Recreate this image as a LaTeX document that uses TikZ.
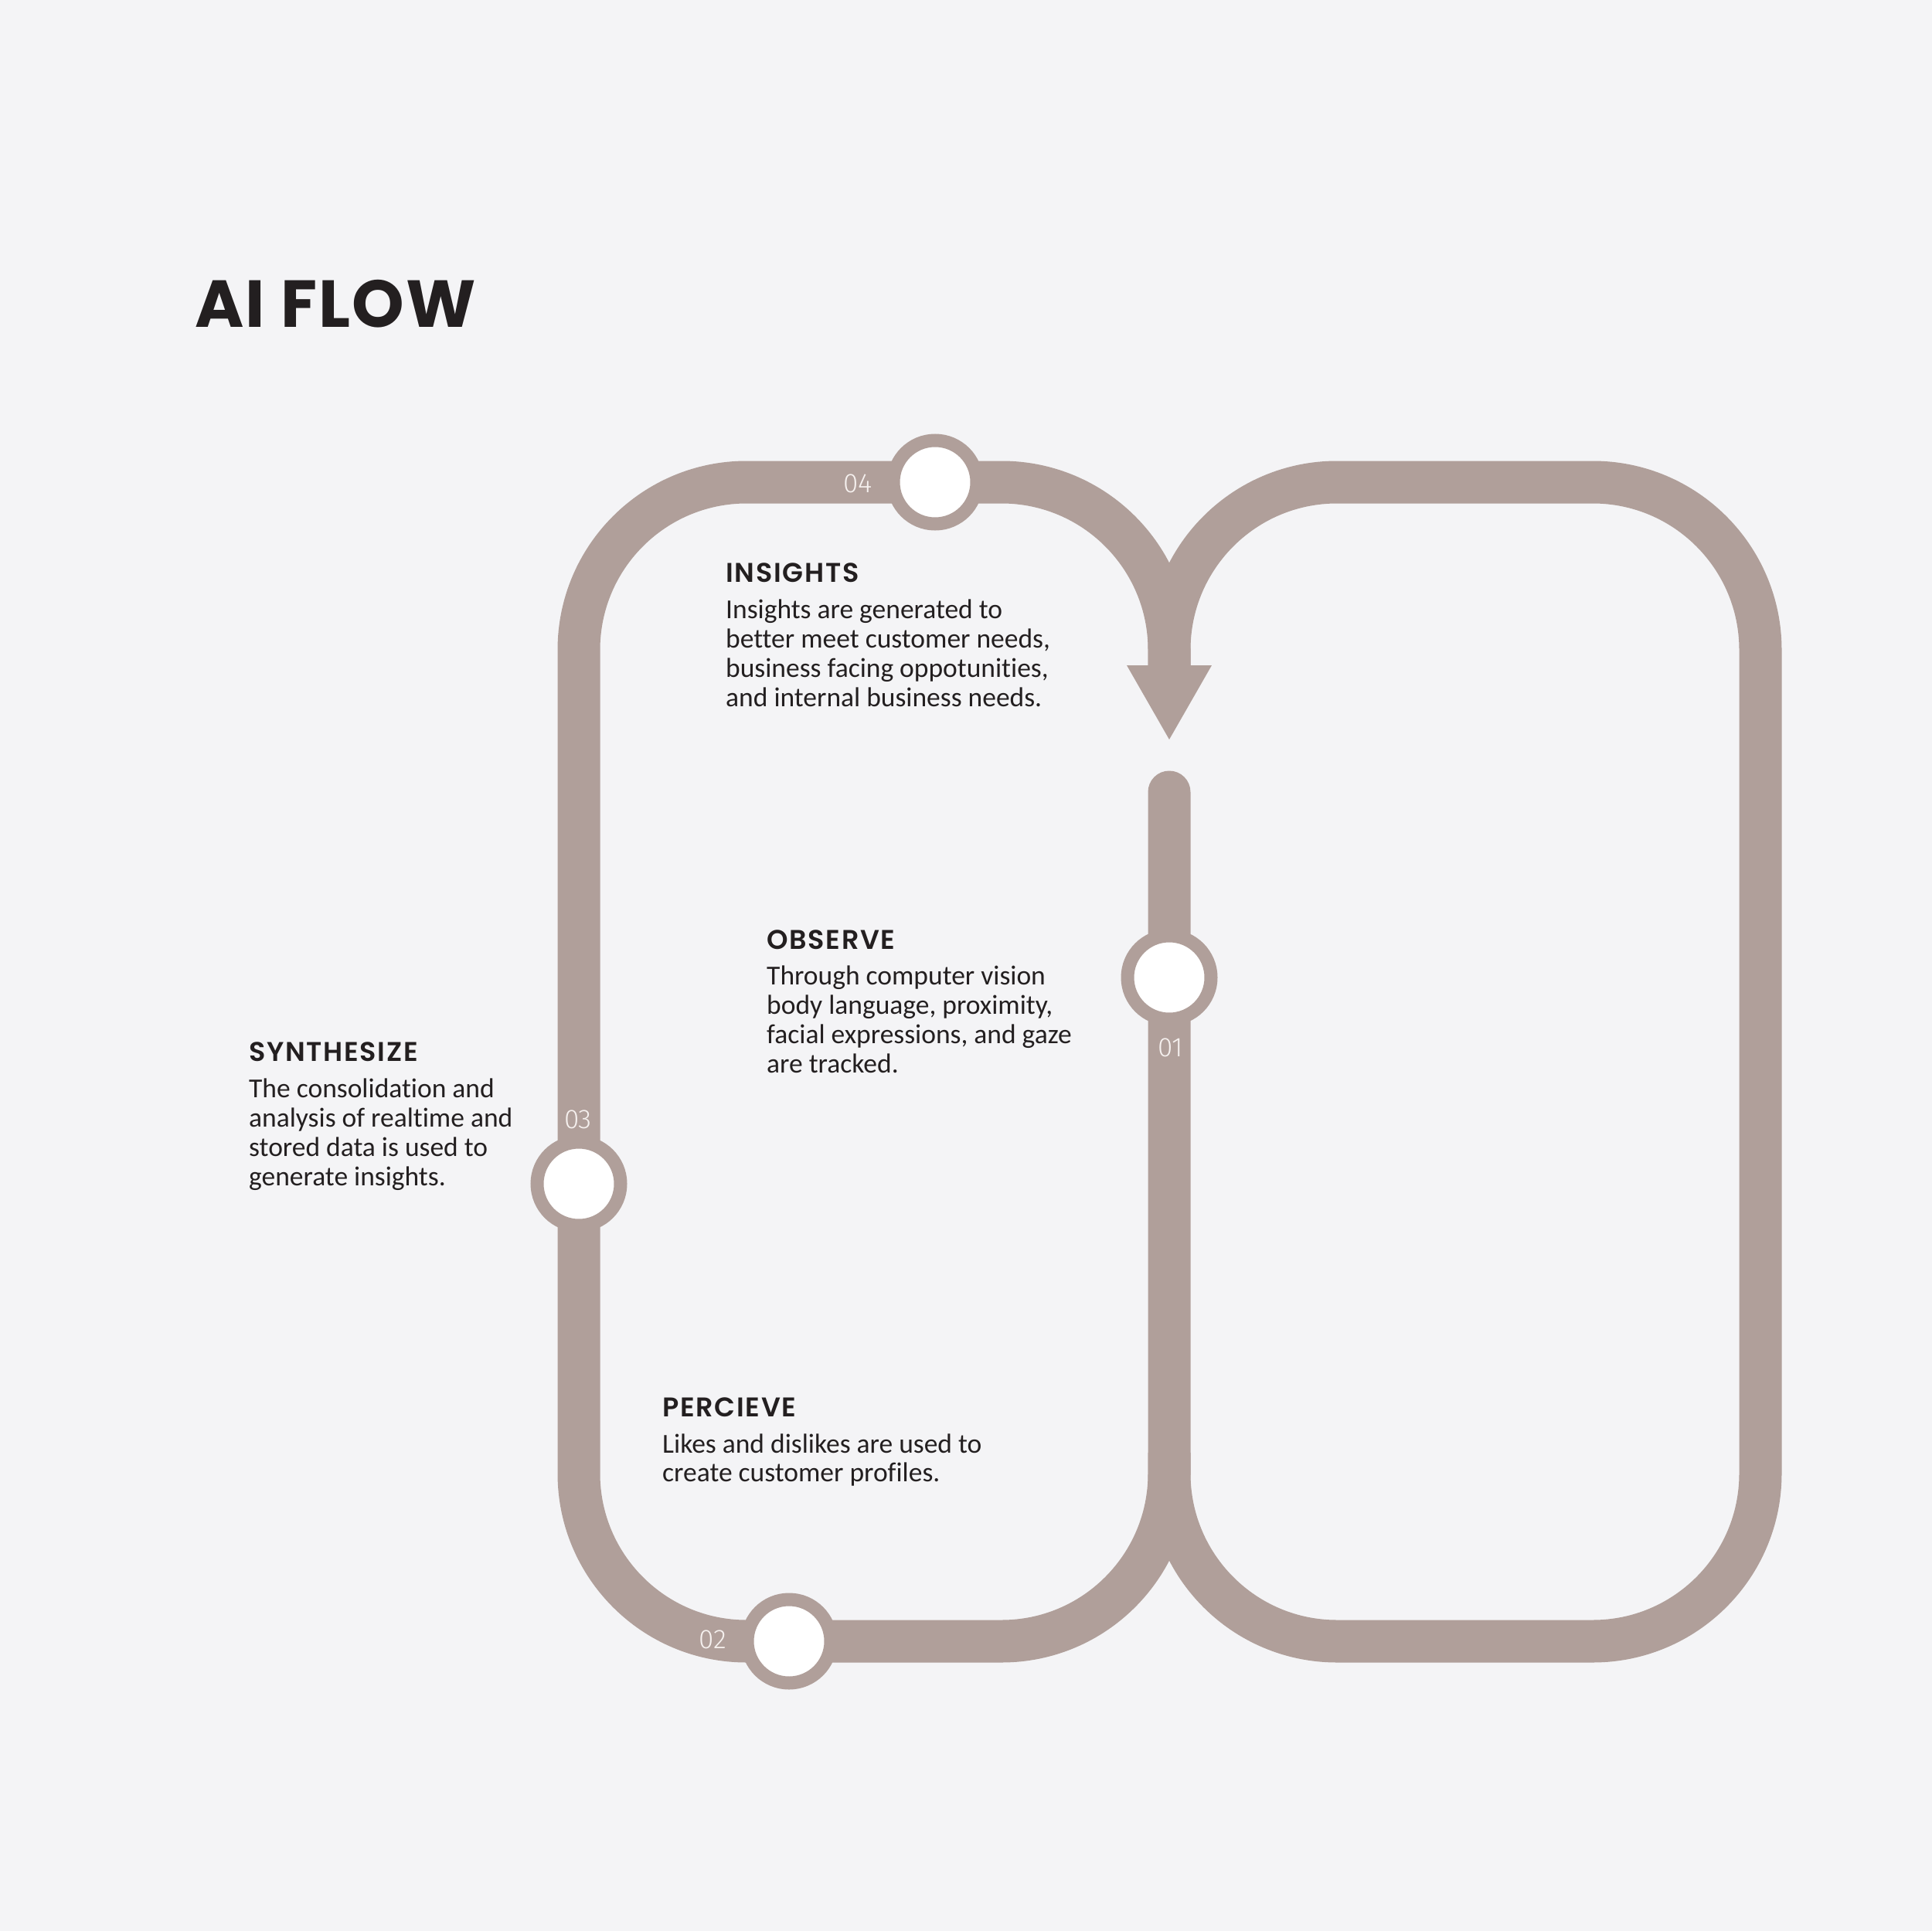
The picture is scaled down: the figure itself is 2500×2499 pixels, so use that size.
\documentclass[tikz,border=0pt]{standalone}
\usepackage{fontspec}
\setmainfont{Carlito}[RawFeature=-liga]
\newfontfamily\headfont{Poppins SemiBold}[LetterSpace=5]
\newfontfamily\titlefont{Poppins}[LetterSpace=2.5]
\newfontfamily\numfont{Fira Sans Light}
\definecolor{bandc}{HTML}{B09F9A}
\definecolor{bgc}{HTML}{F4F4F6}
\definecolor{txt}{HTML}{231F20}
\definecolor{numc}{HTML}{F6F1EF}
\begin{document}
\begin{tikzpicture}[x=1pt,y=-1pt,
  band/.style={draw=bandc, line width=55pt, rounded corners=217pt},
  stopc/.style={circle, draw=bandc, fill=white, line width=17pt, minimum size=108pt, inner sep=0pt},
  num/.style={text=numc, font=\numfont\fontsize{35}{35}\selectfont, inner sep=0pt, anchor=base},
  head/.style={text=txt, font=\headfont\fontsize{35}{35}\selectfont, inner sep=0pt, anchor=base west},
  body/.style={text=txt, font=\fontsize{35.5}{38}\selectfont, inner sep=0pt, anchor=base west}]
\fill[bgc] (0,0) rectangle (2500,2499);
\useasboundingbox (0,0) rectangle (2500,2499);

% track coordinates
\coordinate (capend) at (1513,1025);
\coordinate (bm) at (1513,2124);
\coordinate (bl) at (749,2124);
\coordinate (tl) at (749,624);
\coordinate (tm) at (1513,624);
\coordinate (ab) at (1513,861);
\coordinate (tr) at (2278,624);
\coordinate (br) at (2278,2124);
\coordinate (stub) at (1513,1880);

\draw[band, line cap=round] (capend) -- (bm) -- (bl) -- (tl) -- (tm) -- (ab);
\draw[band] (ab) -- (tm) -- (tr) -- (br) -- (bm) -- (stub);
\fill[bandc] (1458,861) -- (1568,861) -- (1513,957) -- cycle;

% stops
\node[stopc] (s1) at (1513,1265) {};
\node[stopc] (s2) at (1021,2124) {};
\node[stopc] (s3) at (749,1532) {};
\node[stopc] (s4) at (1210,624) {};

\node[num] (n1) at (1515,1367) {01};
\node[num] (n2) at (922,2133) {02};
\node[num] (n3) at (748,1460) {03};
\node[num] (n4) at (1110,637) {04};

% title
\node[text=txt, font=\titlefont\bfseries\fontsize{86}{86}\selectfont, inner sep=0pt, anchor=base west] (title) at (252,423) {AI FLOW};

% insights
\node[head] (h4) at (939,753) {INSIGHTS};
\node[body] (i1) at (939,800) {Insights are generated to};
\node[body] (i2) at (939,838) {better meet customer needs,};
\node[body] (i3) at (939,876) {business facing oppotunities,};
\node[body] (i4) at (939,914) {and internal business needs.};

% observe
\node[head] (h1) at (992,1228) {OBSERVE};
\node[body] (o1) at (992,1274) {Through computer vision};
\node[body] (o2) at (992,1312) {body language, proximity,};
\node[body] (o3) at (992,1350) {facial expressions, and gaze};
\node[body] (o4) at (992,1388) {are tracked.};

% synthesize
\node[head] (h3) at (322,1373) {SYNTHESIZE};
\node[body] (y1) at (322,1420) {The consolidation and};
\node[body] (y2) at (322,1458) {analysis of realtime and};
\node[body] (y3) at (322,1496) {stored data is used to};
\node[body] (y4) at (322,1534) {generate insights.};

% percieve
\node[head] (h2) at (857,1833) {PERCIEVE};
\node[body] (p1) at (857,1880) {Likes and dislikes are used to};
\node[body] (p2) at (857,1917) {create customer profiles.};
\end{tikzpicture}
\end{document}
